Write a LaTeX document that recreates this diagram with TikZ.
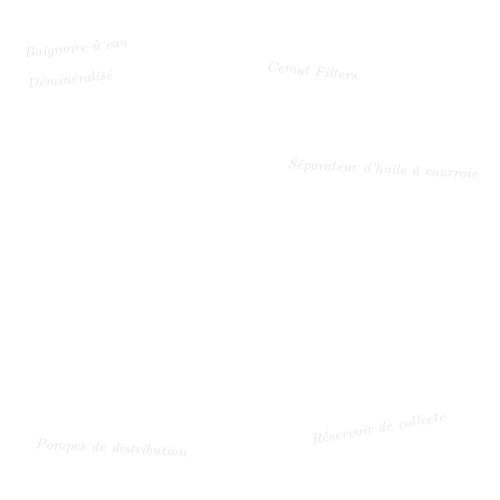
\documentclass[tikz,border=0pt]{standalone}
\usetikzlibrary{positioning}

\begin{document}
\begin{tikzpicture}[x=0.2mm,y=-0.2mm,every node/.style = {align=center, text=black!9, font=\itshape\footnotesize, inner sep=1pt}]
\useasboundingbox[fill=white] (0,0) rectangle (500,500);
\node[rotate=6,align=left] (bath) at (77,63) {Baignoire à eau\\[8pt]Déminéralisé};
\node[rotate=-6] (filters) at (312,71) {Cemat Filters};
\node[rotate=-3] (separator) at (383,170) {Séparateur d'huile à courroie};
\node[rotate=-3] (pumps) at (111,449) {Pompes de distribution};
\node[rotate=10] (tank) at (378,428) {Réservoir de collecte};
\end{tikzpicture}
\end{document}
